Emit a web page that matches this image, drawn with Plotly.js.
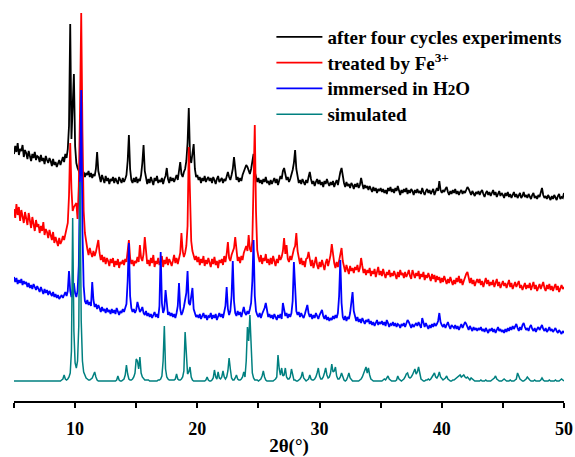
<!DOCTYPE html>
<html>
<head>
<meta charset="utf-8">
<script src="https://cdn.plot.ly/plotly-3.0.1.min.js"></script>
<style>html,body{margin:0;padding:0;background:#fff;}#chart{width:575px;height:457px;}</style>
</head>
<body>
<div id="chart"></div>
<script>
// 2θ sampling positions (degrees)
const twoTheta = [
5.0,5.1,5.2,5.3,5.4,5.5,5.6,5.7,5.8,5.9,
6.0,6.1,6.2,6.3,6.4,6.5,6.6,6.7,6.8,6.9,
7.0,7.1,7.2,7.3,7.4,7.5,7.6,7.7,7.8,7.9,
8.0,8.1,8.2,8.3,8.4,8.5,8.6,8.7,8.8,8.9,
9.0,9.1,9.2,9.3,9.4,9.5,9.6,9.7,9.8,9.9,
10.0,10.1,10.2,10.3,10.4,10.5,10.6,10.7,10.8,10.9,
11.0,11.1,11.2,11.3,11.4,11.5,11.6,11.7,11.8,11.9,
12.0,12.1,12.2,12.3,12.4,12.5,12.6,12.7,12.8,12.9,
13.0,13.1,13.2,13.3,13.4,13.5,13.6,13.7,13.8,13.9,
14.0,14.1,14.2,14.3,14.4,14.5,14.6,14.7,14.8,14.9,
15.0,15.1,15.2,15.3,15.4,15.5,15.6,15.7,15.8,15.9,
16.0,16.1,16.2,16.3,16.4,16.5,16.6,16.7,16.8,16.9,
17.0,17.1,17.2,17.3,17.4,17.5,17.6,17.7,17.8,17.9,
18.0,18.1,18.2,18.3,18.4,18.5,18.6,18.7,18.8,18.9,
19.0,19.1,19.2,19.3,19.4,19.5,19.6,19.7,19.8,19.9,
20.0,20.1,20.2,20.3,20.4,20.5,20.6,20.7,20.8,20.9,
21.0,21.1,21.2,21.3,21.4,21.5,21.6,21.7,21.8,21.9,
22.0,22.1,22.2,22.3,22.4,22.5,22.6,22.7,22.8,22.9,
23.0,23.1,23.2,23.3,23.4,23.5,23.6,23.7,23.8,23.9,
24.0,24.1,24.2,24.3,24.4,24.5,24.6,24.7,24.8,24.9,
25.0,25.1,25.2,25.3,25.4,25.5,25.6,25.7,25.8,25.9,
26.0,26.1,26.2,26.3,26.4,26.5,26.6,26.7,26.8,26.9,
27.0,27.1,27.2,27.3,27.4,27.5,27.6,27.7,27.8,27.9,
28.0,28.1,28.2,28.3,28.4,28.5,28.6,28.7,28.8,28.9,
29.0,29.1,29.2,29.3,29.4,29.5,29.6,29.7,29.8,29.9,
30.0,30.1,30.2,30.3,30.4,30.5,30.6,30.7,30.8,30.9,
31.0,31.1,31.2,31.3,31.4,31.5,31.6,31.7,31.8,31.9,
32.0,32.1,32.2,32.3,32.4,32.5,32.6,32.7,32.8,32.9,
33.0,33.1,33.2,33.3,33.4,33.5,33.6,33.7,33.8,33.9,
34.0,34.1,34.2,34.3,34.4,34.5,34.6,34.7,34.8,34.9,
35.0,35.1,35.2,35.3,35.4,35.5,35.6,35.7,35.8,35.9,
36.0,36.1,36.2,36.3,36.4,36.5,36.6,36.7,36.8,36.9,
37.0,37.1,37.2,37.3,37.4,37.5,37.6,37.7,37.8,37.9,
38.0,38.1,38.2,38.3,38.4,38.5,38.6,38.7,38.8,38.9,
39.0,39.1,39.2,39.3,39.4,39.5,39.6,39.7,39.8,39.9,
40.0,40.1,40.2,40.3,40.4,40.5,40.6,40.7,40.8,40.9,
41.0,41.1,41.2,41.3,41.4,41.5,41.6,41.7,41.8,41.9,
42.0,42.1,42.2,42.3,42.4,42.5,42.6,42.7,42.8,42.9,
43.0,43.1,43.2,43.3,43.4,43.5,43.6,43.7,43.8,43.9,
44.0,44.1,44.2,44.3,44.4,44.5,44.6,44.7,44.8,44.9,
45.0,45.1,45.2,45.3,45.4,45.5,45.6,45.7,45.8,45.9,
46.0,46.1,46.2,46.3,46.4,46.5,46.6,46.7,46.8,46.9,
47.0,47.1,47.2,47.3,47.4,47.5,47.6,47.7,47.8,47.9,
48.0,48.1,48.2,48.3,48.4,48.5,48.6,48.7,48.8,48.9,
49.0,49.1,49.2,49.3,49.4,49.5,49.6,49.7,49.8,49.9,
50.0];

// intensities (arbitrary units, vertically offset as in the figure)
const afterFourCycles = [
247,255,249,258,246,252,250,256,244,251,
248,242,250,245,240,247,243,249,241,245,
244,239,246,240,243,237,245,241,238,243,
240,235,242,236,239,234,237,241,236,240,
244,239,247,243,252,275,377,262,288,327,
255,238,233,229,227,231,225,229,224,228,
226,230,224,228,223,227,225,232,249,230,
224,219,226,221,218,225,220,223,217,222,
220,224,218,223,219,217,224,220,218,223,
219,222,226,240,266,232,221,218,223,219,
224,218,222,220,226,238,256,230,221,217,
222,218,224,219,216,223,220,225,218,221,
219,223,217,222,225,233,222,218,224,220,
223,219,222,226,221,231,239,227,224,229,
232,240,258,293,245,238,246,257,232,224,
226,221,224,218,223,220,225,219,222,224,
220,223,218,224,221,217,222,225,219,221,
223,218,222,220,226,229,224,221,226,232,
244,228,221,224,219,223,220,226,229,233,
236,234,231,227,232,238,247,229,222,219,
223,218,221,217,222,219,224,218,220,216,
221,217,220,223,218,222,216,220,225,222,
230,233,226,221,224,219,222,226,231,238,
251,232,222,218,221,217,222,219,216,221,
218,224,229,222,217,220,215,219,222,217,
221,216,219,214,220,217,222,218,215,219,
216,220,214,218,221,216,224,229,233,225,
218,214,219,215,217,213,218,216,212,217,
214,218,213,216,223,217,212,216,213,215,
211,215,212,209,214,210,213,208,212,210,
213,209,212,208,211,207,213,210,214,209,
212,208,213,210,215,209,206,211,208,212,
209,213,207,211,208,212,210,206,211,208,
212,208,210,207,213,209,206,210,212,208,
211,207,210,212,206,209,213,210,220,211,
208,211,209,212,214,209,206,210,207,211,
208,212,207,210,206,209,211,207,210,208,
211,214,212,209,206,210,208,205,209,207,
210,206,209,211,207,204,208,210,206,209,
205,208,211,206,209,204,207,210,205,208,
206,203,208,205,209,204,207,203,206,209,
204,207,203,206,208,203,205,209,204,206,
203,207,204,202,206,208,203,205,202,206,
204,208,213,206,203,205,202,206,204,201,
205,202,206,203,201,205,207,202,204,203,
208];

const treatedByFe = [
192,183,197,186,194,180,191,185,178,189,
182,176,188,179,173,184,177,170,181,174,
177,168,175,170,179,166,172,169,163,171,
166,161,169,158,164,160,155,163,157,160,
165,161,168,172,178,205,258,212,190,194,
196,198,182,215,290,388,270,190,168,158,
152,146,153,148,144,150,145,149,154,161,
148,141,146,139,144,137,143,140,135,142,
138,143,134,140,136,142,133,139,137,141,
136,142,139,148,161,143,137,141,135,140,
138,144,139,156,143,140,147,164,145,137,
141,135,143,138,146,134,140,137,143,136,
139,145,134,141,137,144,136,142,139,135,
140,146,138,143,137,142,148,168,150,144,
148,155,175,254,205,160,150,146,141,145,
139,144,136,142,138,145,135,141,137,143,
138,134,142,137,144,136,140,133,141,138,
142,136,145,139,147,159,143,140,146,150,
153,164,147,140,144,138,145,141,148,152,
155,150,166,152,149,160,205,276,190,151,
144,139,146,137,143,140,147,138,142,136,
143,137,145,139,135,142,138,146,141,144,
150,163,147,156,142,139,145,141,148,152,
155,168,150,141,137,143,136,140,134,142,
143,149,140,135,141,133,138,144,136,132,
139,134,141,136,131,138,142,135,140,146,
157,145,138,133,139,134,141,144,153,140,
134,129,136,131,127,135,130,133,128,134,
131,136,129,133,143,135,128,132,126,131,
128,133,125,130,127,132,124,129,134,126,
130,125,132,127,123,129,126,131,124,128,
125,130,127,122,129,124,131,126,128,123,
129,124,127,131,125,122,131,126,123,128,
125,130,122,127,124,129,121,126,123,128,
124,120,127,122,126,119,125,121,124,118,
123,119,125,120,117,122,118,124,120,116,
121,117,123,119,125,118,122,116,120,124,
127,129,121,118,123,117,121,115,119,122,
118,122,116,120,114,119,123,117,121,115,
119,116,121,114,118,122,115,119,113,117,
120,115,118,113,117,121,114,118,112,116,
119,114,117,120,113,116,111,115,118,112,
116,113,118,111,115,119,112,116,110,114,
117,112,115,119,113,110,116,112,117,111,
115,110,114,117,111,115,109,113,116,112,
114];

const immersedInWater = [
124,119,123,117,121,118,122,116,120,117,
119,114,118,113,116,112,117,114,111,115,
112,109,114,110,107,112,108,111,106,110,
108,105,109,104,107,103,106,102,104,106,
103,107,109,105,110,130,110,104,112,118,
108,104,110,135,220,311,170,115,100,97,
101,96,99,95,119,101,94,97,92,96,
93,89,94,90,92,88,93,89,91,87,
92,88,91,87,93,89,86,90,88,92,
89,93,97,120,158,105,93,89,92,88,
91,99,92,89,91,94,88,86,90,85,
88,84,87,83,86,89,84,87,83,95,
149,98,88,92,111,95,86,89,85,88,
84,87,83,88,95,118,92,86,89,94,
100,108,130,98,96,105,113,92,87,84,
86,83,87,82,85,88,83,86,81,85,
84,88,82,86,83,87,81,85,88,84,
87,83,89,95,114,92,86,90,105,140,
100,88,85,90,86,89,84,90,94,88,
86,90,87,92,98,120,161,105,90,86,
84,88,83,87,90,93,98,89,84,87,
83,86,82,87,84,81,86,83,87,82,
98,89,85,88,83,87,84,88,100,139,
108,90,86,89,84,88,85,83,87,92,
96,88,84,87,82,86,83,88,85,82,
86,89,91,85,82,86,81,84,80,83,
81,85,82,86,83,88,105,141,98,84,
81,85,80,84,82,88,96,109,90,83,
80,84,79,82,78,83,80,77,81,79,
82,77,80,76,79,75,78,81,76,79,
77,80,76,79,75,81,78,74,77,76,
79,75,78,74,77,76,73,77,75,78,
74,77,81,79,75,73,77,74,76,78,
75,79,76,73,83,77,74,78,75,72,
76,73,77,74,78,75,77,80,88,79,
76,74,77,73,76,79,75,72,76,74,
73,76,72,75,71,74,77,73,76,79,
77,74,71,75,72,70,74,71,73,70,
73,71,74,70,72,69,73,71,68,72,
70,73,69,72,68,71,74,70,72,69,
71,68,72,69,73,70,74,71,75,72,
74,77,73,70,74,71,76,78,74,71,
73,70,74,76,72,70,73,69,72,74,
71,74,76,72,70,73,69,71,74,70,
72,69,71,73,70,68,71,69,67,70,
68];

const simulated = [
20,20,20,20,20,20,20,20,20,20,
20,20,20,20,20,20,20,20,20,20,
20,20,20,20,20,20,20,20,20,20,
20,20,20,20,20,20,20,20,20,21,
22,26,22,21,22,24,28,50,183,70,
38,33,40,75,219,80,40,29,25,23,
22,21,21,22,23,26,29,24,21,20,
20,20,20,20,20,20,20,20,20,20,
20,20,20,20,21,25,21,20,20,21,
22,26,36,27,22,21,21,22,24,28,
42,40,32,44,28,24,22,21,21,21,
21,20,20,20,20,20,20,20,21,21,
22,25,40,75,32,24,22,21,21,21,
21,21,22,27,22,21,21,22,24,30,
69,45,27,29,34,24,21,20,20,20,
20,20,20,20,20,20,20,21,24,21,
20,20,21,23,31,24,22,29,23,22,
24,30,24,22,24,30,43,32,23,21,
21,23,26,22,21,21,22,24,29,24,
40,74,60,86,45,28,23,21,21,21,
20,21,22,25,30,24,21,20,20,20,
20,20,20,21,22,24,46,32,26,33,
25,26,33,24,22,22,24,32,24,21,
21,20,20,21,22,24,29,23,21,20,
21,22,26,22,21,21,22,24,28,33,
25,22,22,24,28,33,26,23,24,28,
37,29,30,34,25,22,22,24,28,23,
21,20,21,24,28,23,21,20,20,20,
20,20,20,21,22,24,27,30,34,28,
33,26,22,21,20,20,20,20,20,20,
20,20,21,22,21,23,25,22,21,20,
20,20,20,21,25,22,21,20,21,22,
24,27,28,24,23,24,26,30,32,27,
29,34,26,22,21,20,20,21,21,22,
21,22,24,26,28,24,23,25,29,24,
22,21,22,23,25,22,21,20,20,21,
21,22,23,24,25,26,24,25,26,24,
23,24,22,21,23,22,21,20,20,20,
20,20,21,20,20,20,21,20,20,20,
20,21,22,23,25,22,21,20,20,20,
21,22,21,20,20,20,21,20,20,20,
21,22,28,24,22,21,20,20,21,22,
24,22,21,20,20,20,21,20,20,20,
20,21,23,21,20,20,20,20,21,20,
20,20,20,21,20,20,20,21,22,21,
20];

const seriesNames = [
  '<span style="font-size:19px">after four cycles experiments</span>',
  '<span style="font-size:19px">treated by Fe<sup>3+</sup></span>',
  '<span style="font-size:19px">immersed in H</span><span style="font-size:15px">2</span><span style="font-size:19px">O</span>',
  '<span style="font-size:19px">simulated</span>'
];
const seriesColors = ['#000000', '#ff0000', '#0000ff', '#008080'];
const seriesValues = [afterFourCycles, treatedByFe, immersedInWater, simulated];
const xTicks = [10, 20, 30, 40, 50];

const serif = 'Liberation Serif, Times New Roman, serif';

const traces = seriesValues.map((vals, i) => ({
  type: 'scatter',
  mode: 'lines',
  x: twoTheta,
  y: vals,
  name: seriesNames[i],
  line: {color: seriesColors[i], width: i === 3 ? 1.5 : 1.8},
  hoverinfo: 'skip'
}));

const layout = {
  width: 575,
  height: 457,
  margin: {l: 14, r: 11, t: 0, b: 56},
  paper_bgcolor: '#ffffff',
  plot_bgcolor: '#ffffff',
  showlegend: true,
  legend: {
    x: 0.468, xanchor: 'left',
    y: 0.9525, yanchor: 'top',
    bgcolor: 'rgba(0,0,0,0)',
    borderwidth: 0,
    font: {family: serif, size: 17.5, color: '#000', weight: 'bold'},
    itemwidth: 46,
    tracegroupgap: 0
  },
  xaxis: {
    range: [5, 50],
    showline: true, linecolor: '#000', linewidth: 2,
    ticks: 'outside', ticklen: 5, tickwidth: 2, tickcolor: '#000',
    tickvals: xTicks,
    ticklabelstandoff: 5,
    tickfont: {family: serif, size: 18, color: '#000', weight: 'bold'},
    minor: {dtick: 5, tick0: 5, ticks: 'outside', ticklen: 5, tickwidth: 2, tickcolor: '#000', showgrid: false},
    showgrid: false, zeroline: false,
    title: {text: '2θ(°)', font: {family: serif, size: 19, color: '#000', weight: 'bold'}, standoff: 4}
  },
  yaxis: {
    range: [0, 401],
    visible: false,
    showgrid: false, zeroline: false
  }
};

Plotly.newPlot('chart', traces, layout, {staticPlot: true, displayModeBar: false});
</script>
</body>
</html>
